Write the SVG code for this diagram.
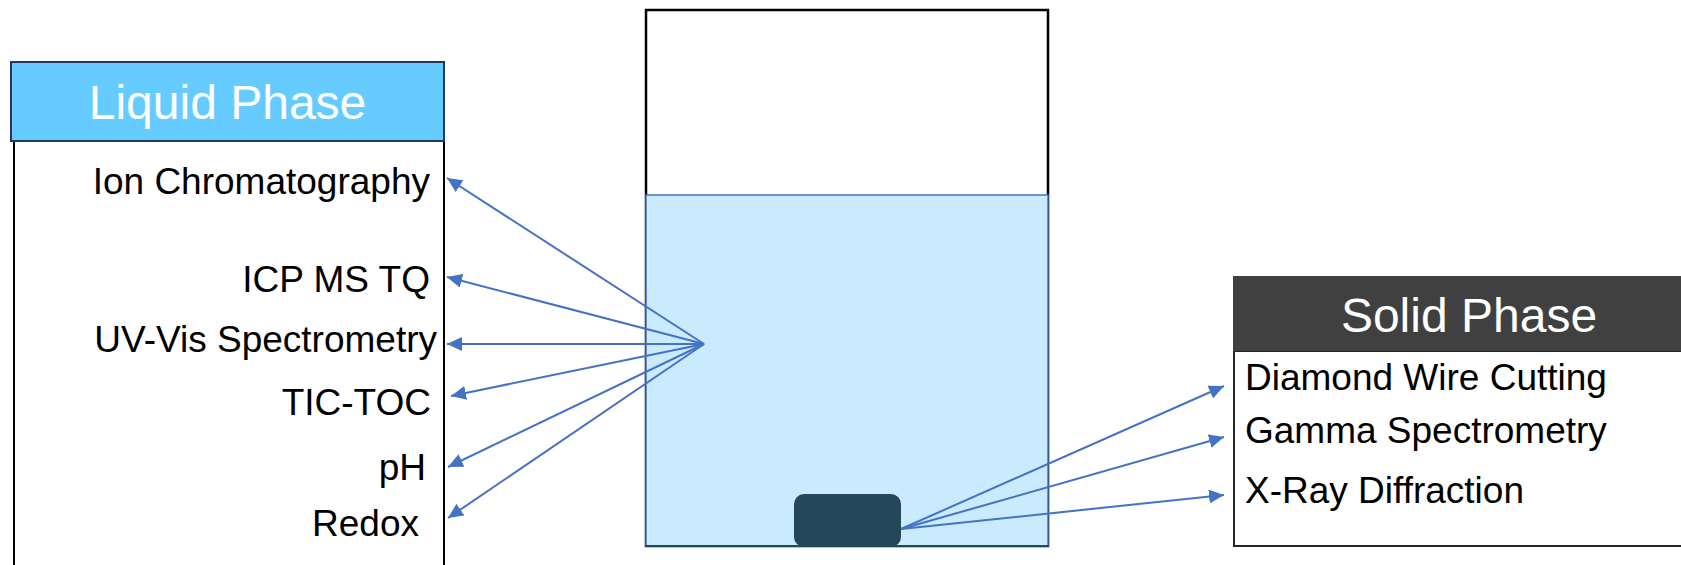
<svg xmlns="http://www.w3.org/2000/svg" width="1681" height="565" viewBox="0 0 1681 565">
<style>
.lbl{font-family:"Liberation Sans",Arial,sans-serif;font-size:37px;fill:#000}
.hdr{font-family:"Liberation Sans",Arial,sans-serif;font-size:48px;fill:#fff;text-anchor:middle}
.conn{stroke:#4472c4;stroke-width:2;fill:none;marker-end:url(#ah)}
</style>
<defs>
<marker id="ah" markerUnits="userSpaceOnUse" markerWidth="16" markerHeight="14" refX="15" refY="7" orient="auto">
<path d="M0,0 L15,7 L0,14 Z" fill="#4472c4"/>
</marker>
</defs>
<rect width="1681" height="565" fill="#fff"/>
<g id="beaker">
<rect x="646" y="10" width="402" height="536" fill="#fff" stroke="#000" stroke-width="2.5"/>
<rect x="646" y="195" width="402" height="351" fill="#c9ebfd" stroke="#4472c4" stroke-width="1.5"/>
<line x1="646" y1="546" x2="1048" y2="546" stroke="#244657" stroke-width="2"/>
</g>
<g id="sample">
<rect x="794" y="494" width="107" height="53" rx="10" fill="#24475a"/>
</g>
<g id="liquid-phase">
<rect x="14" y="141" width="430" height="440" fill="#fff" stroke="#000" stroke-width="2"/>
<rect x="11" y="62" width="433" height="79" fill="#66cbff" stroke="#1f3864" stroke-width="2"/>
<text class="hdr" x="227.5" y="119">Liquid Phase</text>
<g text-anchor="end">
<text class="lbl" x="430" y="194">Ion Chromatography</text>
<text class="lbl" x="430" y="292">ICP MS TQ</text>
<text class="lbl" x="437" y="352">UV-Vis Spectrometry</text>
<text class="lbl" x="431" y="415">TIC-TOC</text>
<text class="lbl" x="426" y="480">pH</text>
<text class="lbl" x="419" y="536">Redox</text>
</g>
</g>
<g id="solid-phase">
<rect x="1234" y="351" width="470" height="195" fill="#fff" stroke="#262626" stroke-width="2"/>
<rect x="1233" y="276" width="470" height="75" fill="#404040"/>
<text class="hdr" x="1469" y="332">Solid Phase</text>
<text class="lbl" x="1245" y="390">Diamond Wire Cutting</text>
<text class="lbl" x="1245" y="443">Gamma Spectrometry</text>
<text class="lbl" x="1245" y="503">X-Ray Diffraction</text>
</g>
<g id="connectors">
<line class="conn" x1="704" y1="344" x2="447" y2="178"/>
<line class="conn" x1="704" y1="344" x2="447" y2="277"/>
<line class="conn" x1="704" y1="344" x2="447" y2="344"/>
<line class="conn" x1="704" y1="344" x2="451" y2="396"/>
<line class="conn" x1="704" y1="344" x2="448" y2="467"/>
<line class="conn" x1="704" y1="344" x2="448" y2="518"/>
<line class="conn" x1="901" y1="529" x2="1224" y2="386"/>
<line class="conn" x1="901" y1="529" x2="1224" y2="437"/>
<line class="conn" x1="901" y1="529" x2="1224" y2="495"/>
</g>
</svg>
